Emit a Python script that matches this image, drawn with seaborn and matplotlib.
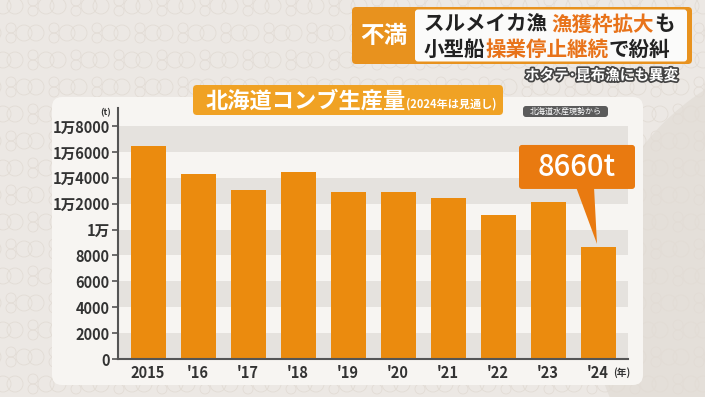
import matplotlib
matplotlib.use("Agg")
import matplotlib.pyplot as plt
import matplotlib.transforms as mtransforms
import matplotlib.patheffects as pe
from matplotlib.patches import FancyBboxPatch, Polygon, Circle
import seaborn as sns

# Hokkaido kombu production (t), 2024 is a forecast
years = ["2015", "'16", "'17", "'18", "'19", "'20", "'21", "'22", "'23", "'24"]
production = [16500, 14300, 13100, 14450, 12900, 12900, 12450, 11100, 12100, 8660]
yticks = [0, 2000, 4000, 6000, 8000, 10000, 12000, 14000, 16000, 18000]
ytick_labels = ["0", "2000", "4000", "6000", "8000", "1万",
                "1万2000", "1万4000", "1万6000", "1万8000"]

W, H = 705, 397
BAR = "#EB8B0E"
ORANGE_TXT = "#E8731A"
DARK = "#333333"

sns.set_theme(style="white")
plt.rcParams['font.family'] = ['Noto Sans CJK JP', 'DejaVu Sans']

fig = plt.figure(figsize=(W / 100, H / 100), dpi=100)
fig.patch.set_facecolor("#ece8e4")

# pixel coords, origin top-left
pix = mtransforms.Affine2D().scale(1 / W, -1 / H).translate(0, 1) + fig.transFigure


def fx(x):
    return x / W


def fy(y):
    return 1 - y / H


def add(p, z=-5):
    p.set_transform(pix)
    p.set_zorder(z)
    fig.add_artist(p)
    return p


# background: big soft circle on the right + faint ring motif
add(Circle((840, 300), 250, facecolor="#e4dfd9", edgecolor="none"), z=-9)
for r in range(16):
    yy = 6 + r * 27
    off = (r % 2) * 21
    for xx in range(-40, 740, 43):
        x0 = xx + off
        for cx, cy, rad in [(x0, yy, 8), (x0 + 12, yy, 8),
                            (x0 + 30, yy - 5, 5), (x0 + 30, yy + 5, 5)]:
            add(Circle((cx, cy), rad, facecolor="none", edgecolor="#e2dcd5",
                       lw=0.6), z=-8)

# chart panel
add(FancyBboxPatch((52, 97), 591, 288, boxstyle="round,pad=0,rounding_size=10",
                   facecolor="#f7f5f2", edgecolor="none"), z=-4)

# axes
ax = fig.add_axes([fx(118), fy(359), (628 - 118) / W, (359 - 108) / H])
ax.set_zorder(1)
ax.patch.set_alpha(0)

for lo in [0, 4000, 8000, 12000, 16000]:
    ax.axhspan(lo, lo + 2000, color="#e5e2de", lw=0, zorder=0)

sns.barplot(x=years, y=production, color=BAR, saturation=1, width=0.7,
            linewidth=0, ax=ax, zorder=2)

ax.set_xlim(-0.6, 9.6)
ax.set_ylim(0, 19400)
ax.set_yticks(yticks, ytick_labels)
ax.set_xlabel("")
ax.set_ylabel("")
for s in ["top", "right"]:
    ax.spines[s].set_visible(False)
for s in ["left", "bottom"]:
    ax.spines[s].set_color("#555555")
    ax.spines[s].set_linewidth(1.5)
ax.tick_params(axis="y", length=4, width=1.2, color="#555555", pad=2,
               labelsize=10.5, labelcolor=DARK, left=True)
ax.tick_params(axis="x", length=0, pad=4, labelsize=10.5, labelcolor=DARK)
for lab in ax.get_xticklabels() + ax.get_yticklabels():
    lab.set_fontweight("bold")

fig.text(fx(106), fy(113), "(t)", fontsize=6.5, fontweight="bold", color=DARK,
         ha="center", va="center")
fig.text(fx(613), fy(373), "(年)", fontsize=7, fontweight="bold", color=DARK,
         ha="left", va="center")

# callout for the 2024 bar
tip = ax.transData.transform((9, production[-1]))
tx, ty = tip[0], H - tip[1]
add(Polygon([(tx - 22, ty - 60), (tx - 4, ty - 60), (tx - 1, ty - 3)],
            closed=True, facecolor="#E97A10", edgecolor="none"), z=5)
add(FancyBboxPatch((tx - 79, ty - 102), 116, 44,
                   boxstyle="round,pad=0,rounding_size=3",
                   facecolor="#E97A10", edgecolor="none"), z=5)
fig.text(fx(tx - 21), fy(ty - 79), f"{production[-1]}t", fontsize=21,
         fontweight="medium", color="white", ha="center", va="center", zorder=6)

# chart title box
add(FancyBboxPatch((193, 85), 310, 30, boxstyle="round,pad=0,rounding_size=4",
                   facecolor="#F0A224", edgecolor="none"), z=3)
renderer = fig.canvas.get_renderer()


def seg_text(x, y, parts, va="center", **kw):
    for s, c, size in parts:
        t = fig.text(fx(x), fy(y), s, color=c, fontsize=size, fontweight="bold",
                     ha="left", va=va, zorder=6, **kw)
        x += t.get_window_extent(renderer).width


seg_text(206, 108, [("北海道コンブ生産量", "white", 16),
                    ("(2024年は見通し)", "white", 8)], va="baseline")

# source tag
add(FancyBboxPatch((523, 106), 85, 11, boxstyle="round,pad=0,rounding_size=3",
                   facecolor="#5b5b5b", edgecolor="none"), z=3)
fig.text(fx(565.5), fy(111.5), "北海道水産現勢から", fontsize=5.8,
         color="white", ha="center", va="center", zorder=6)

# headline
add(FancyBboxPatch((352, 7), 340, 57, boxstyle="round,pad=0,rounding_size=4",
                   facecolor="#E8921E", edgecolor="none"), z=3)
add(FancyBboxPatch((415, 9.5), 272, 52, boxstyle="round,pad=0,rounding_size=3",
                   facecolor="#fbfbfa", edgecolor="none"), z=4)
fig.text(fx(384), fy(36), "不満", fontsize=17, fontweight="bold", color="white",
         ha="center", va="center", zorder=6)
seg_text(424, 24, [("スルメイカ漁 ", "#222222", 14.8),
                   ("漁獲枠拡大", ORANGE_TXT, 14.8),
                   ("も", "#222222", 14.8)])
seg_text(424, 49, [("小型船", "#222222", 14.8),
                   ("操業停止継続", ORANGE_TXT, 14.8),
                   ("で紛糾", "#222222", 14.8)])
fig.text(fx(525), fy(75), "ホタテ･昆布漁にも異変", fontsize=10.5,
         fontweight="bold", color="white", ha="left", va="center", zorder=6,
         path_effects=[pe.withStroke(linewidth=2.5, foreground="#444444")])

fig.savefig("out.png", dpi=100, facecolor=fig.get_facecolor())
